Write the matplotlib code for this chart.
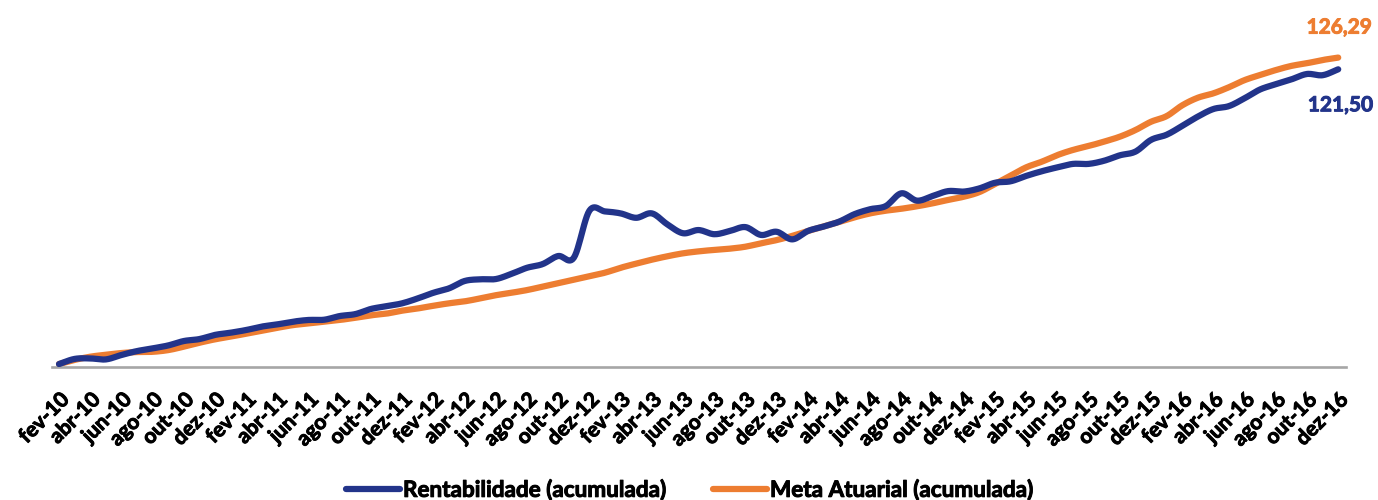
import matplotlib
matplotlib.use("Agg")
import matplotlib.pyplot as plt
from matplotlib import font_manager as fm
import matplotlib.patheffects as pe
import os
import numpy as np

months_pt = ["jan", "fev", "mar", "abr", "mai", "jun", "jul", "ago", "set", "out", "nov", "dez"]
# monthly categories fev-10 .. dez-16
categories = []
for yr in range(2010, 2017):
    for m in range(12):
        if yr == 2010 and m == 0:
            continue
        categories.append(f"{months_pt[m]}-{str(yr)[2:]}")

rentabilidade = [
    1.2, 3.3, 3.5, 3.1, 4.9, 6.5, 7.6, 8.8, 10.6, 11.4,
    13.1, 14.0, 15.1, 16.5, 17.4, 18.5, 19.2, 19.3, 20.8, 21.6,
    23.7, 24.8, 26.0, 28.0, 30.3, 32.1, 35.1, 35.8, 35.9, 38.0,
    40.5, 42.0, 45.3, 44.6, 63.8, 63.5, 62.7, 60.9, 62.7, 58.2,
    54.6, 55.9, 54.2, 55.5, 57.1, 53.9, 55.2, 52.1, 55.5, 57.3,
    59.3, 62.4, 64.4, 65.7, 70.9, 67.9, 69.8, 71.8, 71.6, 72.9,
    75.2, 75.8, 78.0, 79.9, 81.5, 82.9, 82.9, 84.2, 86.4, 87.9,
    92.7, 94.8, 98.4, 102.2, 105.3, 106.5, 109.7, 113.3, 115.4, 117.4,
    119.6, 119.1, 121.50,
]
meta_atuarial = [
    1.2, 2.9, 4.2, 5.0, 5.7, 6.1, 6.2, 6.9, 8.3, 9.9,
    11.3, 12.4, 13.6, 14.8, 16.0, 17.1, 17.8, 18.5, 19.2, 20.1,
    21.1, 21.8, 23.0, 23.9, 25.0, 26.0, 26.8, 28.0, 29.3, 30.3,
    31.4, 32.8, 34.2, 35.6, 37.0, 38.5, 40.5, 42.2, 43.8, 45.2,
    46.4, 47.2, 47.8, 48.3, 49.1, 50.5, 51.8, 53.5, 55.5, 57.3,
    59.2, 61.1, 62.7, 63.8, 64.6, 65.6, 66.8, 68.2, 69.5, 71.4,
    74.7, 78.1, 81.5, 83.8, 86.5, 88.6, 90.2, 92.0, 94.0, 96.7,
    100.1, 102.4, 106.8, 109.9, 111.7, 114.2, 117.1, 119.2, 121.2, 122.9,
    124.0, 125.3, 126.29,
]
series_names = ["Rentabilidade (acumulada)", "Meta Atuarial (acumulada)"]
end_labels = ["121,50", "126,29"]

BLUE = "#22348A"
ORANGE = "#ED7D31"


def bold_font():
    """Find a real bold face file (Calibri-like look preferred)."""
    prefs = [("Lato", ["lato-bold."], 1.0),
             ("Roboto", ["roboto-bold."], 0.97),
             ("Open Sans", ["opensans-bold.", "opensans-bold"], 0.9),
             ("Noto Sans", ["notosans-bold."], 0.9),
             ("Liberation Sans", ["liberationsans-bold."], 0.95)]
    files = [f.fname for f in fm.fontManager.ttflist]
    for fam, keys, sc in prefs:
        for f in files:
            b = os.path.basename(f).lower()
            if any(b.startswith(k) for k in keys):
                return fm.FontProperties(fname=f), sc
    return fm.FontProperties(family="DejaVu Sans", weight="bold"), 0.82


FP, SCALE = bold_font()
FS_TICK = 15.0 * SCALE
FS_LEG = 16.2 * SCALE
FS_LAB = 15.0 * SCALE


def fp(size):
    p = FP.copy()
    p.set_size(size)
    return p


def heavy(color):
    # thicken glyph strokes a little (Calibri Bold look)
    return [pe.withStroke(linewidth=0.7, foreground=color)]


def smooth(xv, yv, n=12):
    """Cubic Hermite (Catmull-Rom) smoothing through the data points, like Excel's smoothed line."""
    xv = np.asarray(xv, float)
    yv = np.asarray(yv, float)
    xs, ys = [], []
    for i in range(len(xv) - 1):
        y0 = yv[i - 1] if i > 0 else yv[i]
        y1, y2 = yv[i], yv[i + 1]
        y3 = yv[i + 2] if i + 2 < len(yv) else yv[i + 1]
        m1 = (y2 - y0) / (2 if i > 0 else 1)
        m2 = (y3 - y1) / (2 if i + 2 < len(yv) else 1)
        t = np.linspace(0, 1, n, endpoint=False)
        h00 = 2 * t**3 - 3 * t**2 + 1
        h10 = t**3 - 2 * t**2 + t
        h01 = -2 * t**3 + 3 * t**2
        h11 = t**3 - t**2
        xs.append(xv[i] + t * (xv[i + 1] - xv[i]))
        ys.append(h00 * y1 + h10 * m1 + h01 * y2 + h11 * m2)
    xs.append([xv[-1]])
    ys.append([yv[-1]])
    return np.concatenate(xs), np.concatenate(ys)


fig = plt.figure(figsize=(13.78, 5.0), dpi=100)
ax = fig.add_axes([52 / 1378, 1 - 367 / 500, (1346 - 52) / 1378, 343 / 500])

x = np.arange(len(categories))
bx, by = smooth(x, rentabilidade)
ox, oy = smooth(x, meta_atuarial)
lb, = ax.plot(bx, by, color=BLUE, lw=4.5, solid_joinstyle="round",
              solid_capstyle="round", label=series_names[0], zorder=3)
lo, = ax.plot(ox, oy, color=ORANGE, lw=4.5, solid_joinstyle="round",
              solid_capstyle="round", label=series_names[1], zorder=2)

ax.set_xlim(-0.45, len(categories) - 1 + 0.5)
ax.set_ylim(0, 140)

for s in ["top", "right", "left"]:
    ax.spines[s].set_visible(False)
ax.spines["bottom"].set_color("#A6A6A6")
ax.spines["bottom"].set_linewidth(1.9)
ax.set_yticks([])

ax.set_xticks(x[::2])
ax.set_xticklabels(categories[::2], rotation=45, ha="right", va="top",
                   rotation_mode="anchor", fontproperties=fp(FS_TICK), color="black")
for t in ax.get_xticklabels():
    t.set_path_effects(heavy("black"))
ax.tick_params(axis="x", length=0, pad=16)

ax.annotate(end_labels[1], xy=(x[-1], meta_atuarial[-1]), xytext=(34, 30),
            textcoords="offset pixels", ha="right", va="center",
            fontproperties=fp(FS_LAB), color=ORANGE, annotation_clip=False,
            path_effects=heavy(ORANGE))
ax.annotate(end_labels[0], xy=(x[-1], rentabilidade[-1]), xytext=(35, -36),
            textcoords="offset pixels", ha="right", va="center",
            fontproperties=fp(FS_LAB), color=BLUE, annotation_clip=False,
            path_effects=heavy(BLUE))

leg = fig.legend(handles=[lb, lo], loc="center", bbox_to_anchor=(0.5, 1 - 490 / 500),
                 ncol=2, frameon=False, handlelength=2.4, handletextpad=0.15,
                 columnspacing=2.1, prop=fp(FS_LEG))
for t in leg.get_texts():
    t.set_path_effects(heavy("black"))

fig.savefig("out.png", dpi=100)
